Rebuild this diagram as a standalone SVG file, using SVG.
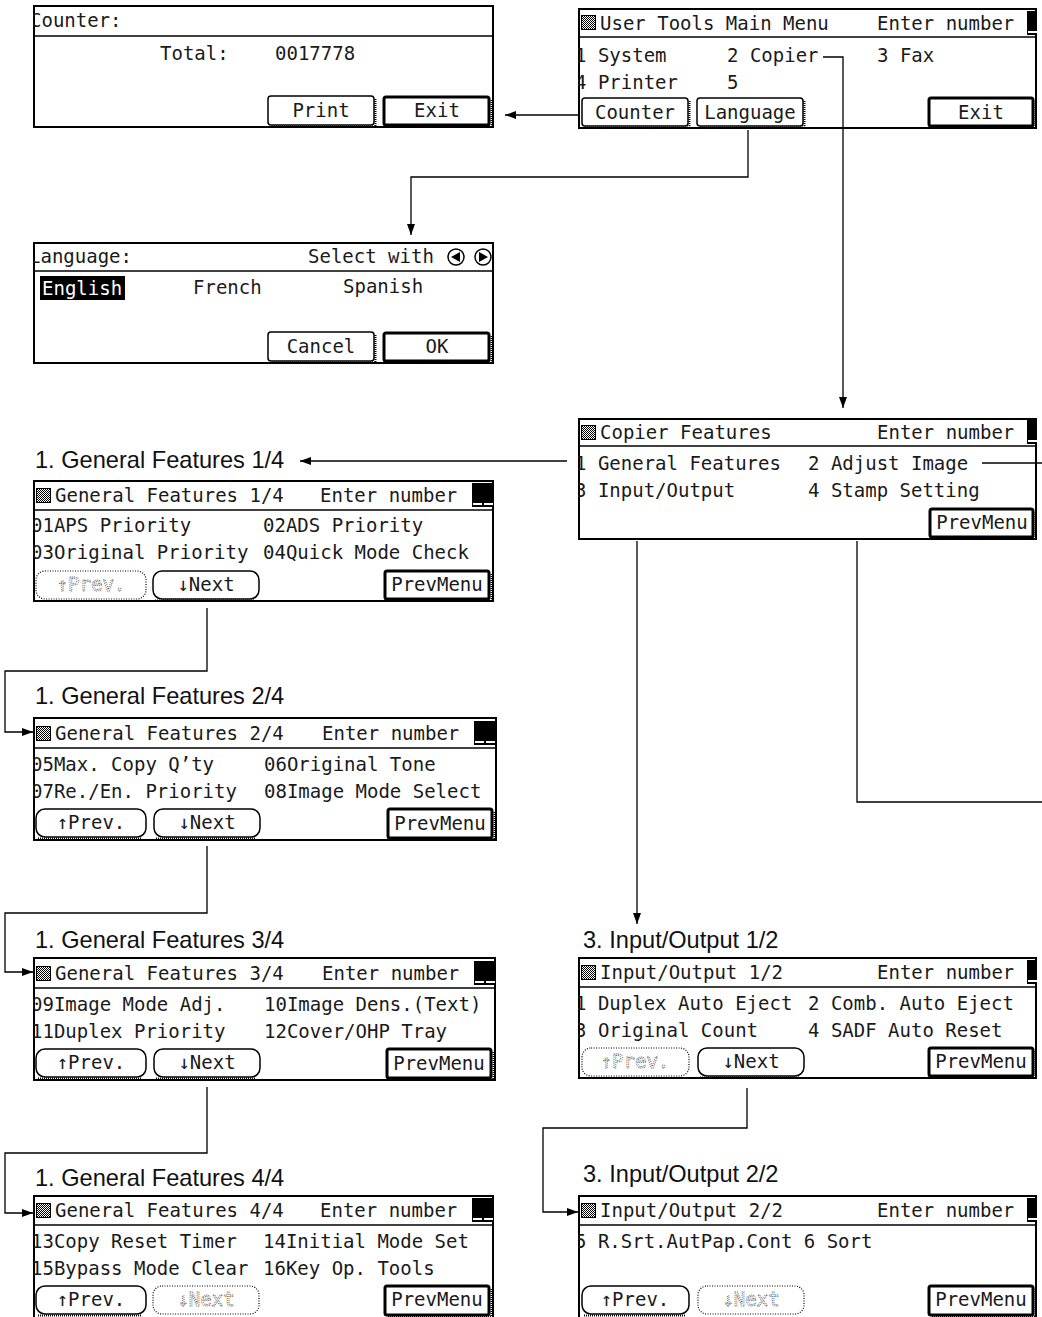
<svg xmlns="http://www.w3.org/2000/svg" width="1042" height="1317" viewBox="0 0 1042 1317">
<style>
.lcd{font-family:"DejaVu Sans Mono","Liberation Mono",monospace;font-size:19px;fill:#1a1a1a}
.mid{text-anchor:middle}
.lbl{font-family:"Liberation Sans",Arial,sans-serif;font-size:23.6px;fill:#111}
.fr{fill:#fff;stroke:#000;stroke-width:2}
.hd{stroke:#000;stroke-width:1.5}
.btn{fill:#fff;stroke:#000;stroke-width:1.5}
.bb{fill:#fff;stroke:#000;stroke-width:3}
.shd{fill:none;stroke:#000;stroke-width:2;stroke-dasharray:1 1}
.dis{fill:#fff;stroke:#000;stroke-width:1.2;stroke-dasharray:1 1.5}
.dt{fill:#fff;stroke:#444;stroke-width:0.8;stroke-dasharray:1 1}
.conn{fill:none;stroke:#000;stroke-width:1.3}
</style>
<defs>
<pattern id="chk" width="2" height="2" patternUnits="userSpaceOnUse"><rect width="2" height="2" fill="#fff"/><rect width="1" height="1" fill="#000"/><rect x="1" y="1" width="1" height="1" fill="#000"/></pattern>
<g id="ico"><rect x="0.5" y="0.5" width="14" height="14" fill="url(#chk)" stroke="#000"/></g>
<g id="cur"><rect width="22" height="24" fill="#000"/><rect x="1" y="20" width="9" height="2" fill="#fff"/><rect x="12" y="20" width="9" height="2" fill="#fff"/></g>
<marker id="ah" viewBox="0 0 11 8" refX="11" refY="4" markerWidth="11" markerHeight="8" markerUnits="userSpaceOnUse" orient="auto"><path d="M0,0 L11,4 L0,8 z" fill="#000"/></marker>
</defs>
<rect width="1042" height="1317" fill="#fff"/>

<g id="counter-panel"><svg x="33" y="5" width="461" height="123" overflow="hidden">
<rect class="fr" x="1" y="1" width="459" height="121"/>
<line class="hd" x1="0" y1="31" x2="461" y2="31"/>
<text class="lcd" x="-3" y="22">Counter:</text>
<text class="lcd" x="127" y="55">Total:</text>
<text class="lcd" x="242" y="55">0017778</text>
<rect class="btn" x="235" y="91" width="106" height="29" rx="3"/><path class="shd" d="M342.5,94 V121.5 H238"/>
<text class="lcd mid" x="288" y="112">Print</text>
<rect class="bb" x="351" y="92" width="105" height="28" rx="2"/><path class="shd" d="M458.5,95 V121.5 H354"/>
<text class="lcd mid" x="404" y="112">Exit</text>
</svg></g>

<g id="main-menu"><svg x="578" y="8" width="459" height="121" overflow="hidden">
<rect class="fr" x="1" y="1" width="457" height="119"/>
<line class="hd" x1="0" y1="29" x2="459" y2="29"/>
<use href="#ico" x="3" y="7"/>
<text class="lcd" x="22" y="22">User Tools Main Menu</text>
<text class="lcd" x="299" y="22">Enter number</text>
<use href="#cur" x="449" y="3"/>
<text class="lcd" x="-3" y="54">1 System</text>
<text class="lcd" x="149" y="54">2 Copier</text>
<text class="lcd" x="299" y="54">3 Fax</text>
<text class="lcd" x="-3" y="81">4 Printer</text>
<text class="lcd" x="149" y="81">5</text>
<rect class="btn" x="4" y="90" width="106" height="28" rx="3"/><path class="shd" d="M111.5,93 V119.5 H7"/>
<text class="lcd mid" x="57" y="111">Counter</text>
<rect class="btn" x="119" y="90" width="106" height="28" rx="3"/><path class="shd" d="M226.5,93 V119.5 H122"/>
<text class="lcd mid" x="172" y="111">Language</text>
<rect class="bb" x="351" y="90" width="104" height="28" rx="2"/><path class="shd" d="M457.5,93 V119.5 H354"/>
<text class="lcd mid" x="403" y="111">Exit</text>
</svg></g>

<g id="language-panel"><svg x="33" y="242" width="461" height="122" overflow="hidden">
<rect class="fr" x="1" y="1" width="459" height="120"/>
<line class="hd" x1="0" y1="29" x2="461" y2="29"/>
<text class="lcd" x="-4" y="21">Language:</text>
<text class="lcd" x="275" y="21">Select with</text>
<circle cx="423" cy="15" r="8" fill="#fff" stroke="#000" stroke-width="1.5"/><path d="M427,10 L418,15 L427,20 z" fill="#000"/>
<circle cx="450" cy="15" r="8" fill="#fff" stroke="#000" stroke-width="1.5"/><path d="M446,10 L455,15 L446,20 z" fill="#000"/>
<rect x="7" y="34" width="85" height="24" fill="#000"/>
<text class="lcd" x="9" y="53" style="fill:#fff">English</text>
<text class="lcd" x="160" y="52">French</text>
<text class="lcd" x="310" y="51">Spanish</text>
<rect class="btn" x="235" y="90" width="106" height="29" rx="3"/><path class="shd" d="M342.5,93 V120.5 H238"/>
<text class="lcd mid" x="288" y="111">Cancel</text>
<rect class="bb" x="351" y="91" width="105" height="28" rx="2"/><path class="shd" d="M458.5,94 V120.5 H354"/>
<text class="lcd mid" x="404" y="111">OK</text>
</svg></g>

<g id="copier-features"><svg x="578" y="418" width="459" height="122" overflow="hidden">
<rect class="fr" x="1" y="1" width="457" height="120"/>
<line class="hd" x1="0" y1="28" x2="459" y2="28"/>
<use href="#ico" x="3" y="7"/>
<text class="lcd" x="22" y="21">Copier Features</text>
<text class="lcd" x="299" y="21">Enter number</text>
<use href="#cur" x="449" y="2"/>
<text class="lcd" x="-3" y="52">1 General Features</text>
<text class="lcd" x="230" y="52">2 Adjust Image</text>
<text class="lcd" x="-3" y="79">3 Input/Output</text>
<text class="lcd" x="230" y="79">4 Stamp Setting</text>
<rect class="bb" x="352" y="91" width="103" height="28" rx="2"/><path class="shd" d="M457.5,94 V120.5 H355"/>
<text class="lcd mid" x="404" y="111">PrevMenu</text>
</svg></g>

<g id="gf1"><text class="lbl" x="35" y="468">1. General Features 1/4</text>
<svg x="33" y="480" width="461" height="122" overflow="hidden">
<rect class="fr" x="1" y="1" width="459" height="120"/>
<line class="hd" x1="0" y1="30" x2="461" y2="30"/>
<use href="#ico" x="3" y="8"/>
<text class="lcd" x="22" y="22">General Features 1/4</text>
<text class="lcd" x="287" y="22">Enter number</text>
<use href="#cur" x="439" y="3"/>
<text class="lcd" x="-2" y="52">01APS Priority</text>
<text class="lcd" x="230" y="52">02ADS Priority</text>
<text class="lcd" x="-2" y="79">03Original Priority</text>
<text class="lcd" x="230" y="79">04Quick Mode Check</text>
<rect class="dis" x="3" y="91" width="110" height="28" rx="9"/>
<text class="lcd mid dt" x="58" y="111">↑Prev.</text>
<rect class="btn" x="120" y="91" width="106" height="28" rx="9"/><path class="shd" d="M122,120.5 H222"/>
<text class="lcd mid" x="173" y="111">↓Next</text>
<rect class="bb" x="352" y="91" width="104" height="28" rx="2"/><path class="shd" d="M458.5,94 V120.5 H355"/>
<text class="lcd mid" x="404" y="111">PrevMenu</text>
</svg></g>

<g id="gf2"><text class="lbl" x="35" y="704">1. General Features 2/4</text>
<svg x="33" y="717" width="464" height="124" overflow="hidden">
<rect class="fr" x="1" y="1" width="462" height="122"/>
<line class="hd" x1="0" y1="31" x2="464" y2="31"/>
<use href="#ico" x="3" y="9"/>
<text class="lcd" x="22" y="23">General Features 2/4</text>
<text class="lcd" x="289" y="23">Enter number</text>
<use href="#cur" x="441" y="4"/>
<text class="lcd" x="-2" y="54">05Max. Copy Q’ty</text>
<text class="lcd" x="231" y="54">06Original Tone</text>
<text class="lcd" x="-2" y="81">07Re./En. Priority</text>
<text class="lcd" x="231" y="81">08Image Mode Select</text>
<rect class="btn" x="3" y="92" width="110" height="28" rx="9"/><path class="shd" d="M5,121.5 H109"/>
<text class="lcd mid" x="58" y="112">↑Prev.</text>
<rect class="btn" x="121" y="92" width="106" height="28" rx="9"/><path class="shd" d="M123,121.5 H223"/>
<text class="lcd mid" x="174" y="112">↓Next</text>
<rect class="bb" x="355" y="92" width="104" height="29" rx="2"/><path class="shd" d="M461.5,95 V122.5 H358"/>
<text class="lcd mid" x="407" y="113">PrevMenu</text>
</svg></g>

<g id="gf3"><text class="lbl" x="35" y="948">1. General Features 3/4</text>
<svg x="33" y="957" width="463" height="124" overflow="hidden">
<rect class="fr" x="1" y="1" width="461" height="122"/>
<line class="hd" x1="0" y1="31" x2="463" y2="31"/>
<use href="#ico" x="3" y="9"/>
<text class="lcd" x="22" y="23">General Features 3/4</text>
<text class="lcd" x="289" y="23">Enter number</text>
<use href="#cur" x="441" y="4"/>
<text class="lcd" x="-2" y="54">09Image Mode Adj.</text>
<text class="lcd" x="231" y="54">10Image Dens.(Text)</text>
<text class="lcd" x="-2" y="81">11Duplex Priority</text>
<text class="lcd" x="231" y="81">12Cover/OHP Tray</text>
<rect class="btn" x="3" y="92" width="110" height="28" rx="9"/><path class="shd" d="M5,121.5 H109"/>
<text class="lcd mid" x="58" y="112">↑Prev.</text>
<rect class="btn" x="121" y="92" width="106" height="28" rx="9"/><path class="shd" d="M123,121.5 H223"/>
<text class="lcd mid" x="174" y="112">↓Next</text>
<rect class="bb" x="354" y="92" width="104" height="29" rx="2"/><path class="shd" d="M460.5,95 V122.5 H357"/>
<text class="lcd mid" x="406" y="113">PrevMenu</text>
</svg></g>

<g id="gf4"><text class="lbl" x="35" y="1186">1. General Features 4/4</text>
<svg x="33" y="1195" width="461" height="122" overflow="hidden">
<rect class="fr" x="1" y="1" width="459" height="122"/>
<line class="hd" x1="0" y1="30" x2="461" y2="30"/>
<use href="#ico" x="3" y="8"/>
<text class="lcd" x="22" y="22">General Features 4/4</text>
<text class="lcd" x="287" y="22">Enter number</text>
<use href="#cur" x="439" y="3"/>
<text class="lcd" x="-2" y="53">13Copy Reset Timer</text>
<text class="lcd" x="230" y="53">14Initial Mode Set</text>
<text class="lcd" x="-2" y="80">15Bypass Mode Clear</text>
<text class="lcd" x="230" y="80">16Key Op. Tools</text>
<rect class="btn" x="3" y="91" width="110" height="28" rx="9"/><path class="shd" d="M5,120.5 H109"/>
<text class="lcd mid" x="58" y="111">↑Prev.</text>
<rect class="dis" x="120" y="91" width="106" height="28" rx="9"/>
<text class="lcd mid dt" x="173" y="111">↓Next</text>
<rect class="bb" x="352" y="91" width="104" height="29" rx="2"/><path class="shd" d="M458.5,94 V121.5 H355"/>
<text class="lcd mid" x="404" y="111">PrevMenu</text>
</svg></g>

<g id="io1"><text class="lbl" x="583" y="948">3. Input/Output 1/2</text>
<svg x="578" y="957" width="459" height="122" overflow="hidden">
<rect class="fr" x="1" y="1" width="457" height="120"/>
<line class="hd" x1="0" y1="30" x2="459" y2="30"/>
<use href="#ico" x="3" y="8"/>
<text class="lcd" x="22" y="22">Input/Output 1/2</text>
<text class="lcd" x="299" y="22">Enter number</text>
<use href="#cur" x="449" y="3"/>
<text class="lcd" x="-3" y="53">1 Duplex Auto Eject</text>
<text class="lcd" x="230" y="53">2 Comb. Auto Eject</text>
<text class="lcd" x="-3" y="80">3 Original Count</text>
<text class="lcd" x="230" y="80">4 SADF Auto Reset</text>
<rect class="dis" x="4" y="91" width="107" height="28" rx="9"/>
<text class="lcd mid dt" x="57" y="111">↑Prev.</text>
<rect class="btn" x="120" y="91" width="106" height="28" rx="9"/><path class="shd" d="M122,120.5 H222"/>
<text class="lcd mid" x="173" y="111">↓Next</text>
<rect class="bb" x="351" y="91" width="104" height="28" rx="2"/><path class="shd" d="M457.5,94 V120.5 H354"/>
<text class="lcd mid" x="403" y="111">PrevMenu</text>
</svg></g>

<g id="io2"><text class="lbl" x="583" y="1182">3. Input/Output 2/2</text>
<svg x="578" y="1195" width="459" height="122" overflow="hidden">
<rect class="fr" x="1" y="1" width="457" height="122"/>
<line class="hd" x1="0" y1="30" x2="459" y2="30"/>
<use href="#ico" x="3" y="8"/>
<text class="lcd" x="22" y="22">Input/Output 2/2</text>
<text class="lcd" x="299" y="22">Enter number</text>
<use href="#cur" x="449" y="3"/>
<text class="lcd" x="-3" y="53">5 R.Srt.AutPap.Cont 6 Sort</text>
<rect class="btn" x="4" y="91" width="107" height="28" rx="9"/><path class="shd" d="M6,120.5 H107"/>
<text class="lcd mid" x="57" y="111">↑Prev.</text>
<rect class="dis" x="120" y="91" width="106" height="28" rx="9"/>
<text class="lcd mid dt" x="173" y="111">↓Next</text>
<rect class="bb" x="351" y="91" width="104" height="29" rx="2"/><path class="shd" d="M457.5,94 V121.5 H354"/>
<text class="lcd mid" x="403" y="111">PrevMenu</text>
</svg></g>

<g id="connectors">
<path class="conn" d="M578,115 H505" marker-end="url(#ah)"/>
<path class="conn" d="M748,130 V177 H411 V235" marker-end="url(#ah)"/>
<path class="conn" d="M823,57 H843 V408" marker-end="url(#ah)"/>
<path class="conn" d="M567,461 H300" marker-end="url(#ah)"/>
<path class="conn" d="M982,463 H1042"/>
<path class="conn" d="M857,541 V802 H1042"/>
<path class="conn" d="M637,541 V924" marker-end="url(#ah)"/>
<path class="conn" d="M207,608 V671 H5 V732 H33" marker-end="url(#ah)"/>
<path class="conn" d="M207,846 V913 H5 V972 H33" marker-end="url(#ah)"/>
<path class="conn" d="M207,1087 V1153 H5 V1213 H33" marker-end="url(#ah)"/>
<path class="conn" d="M747,1088 V1128 H543 V1212 H578" marker-end="url(#ah)"/>
</g>
</svg>
